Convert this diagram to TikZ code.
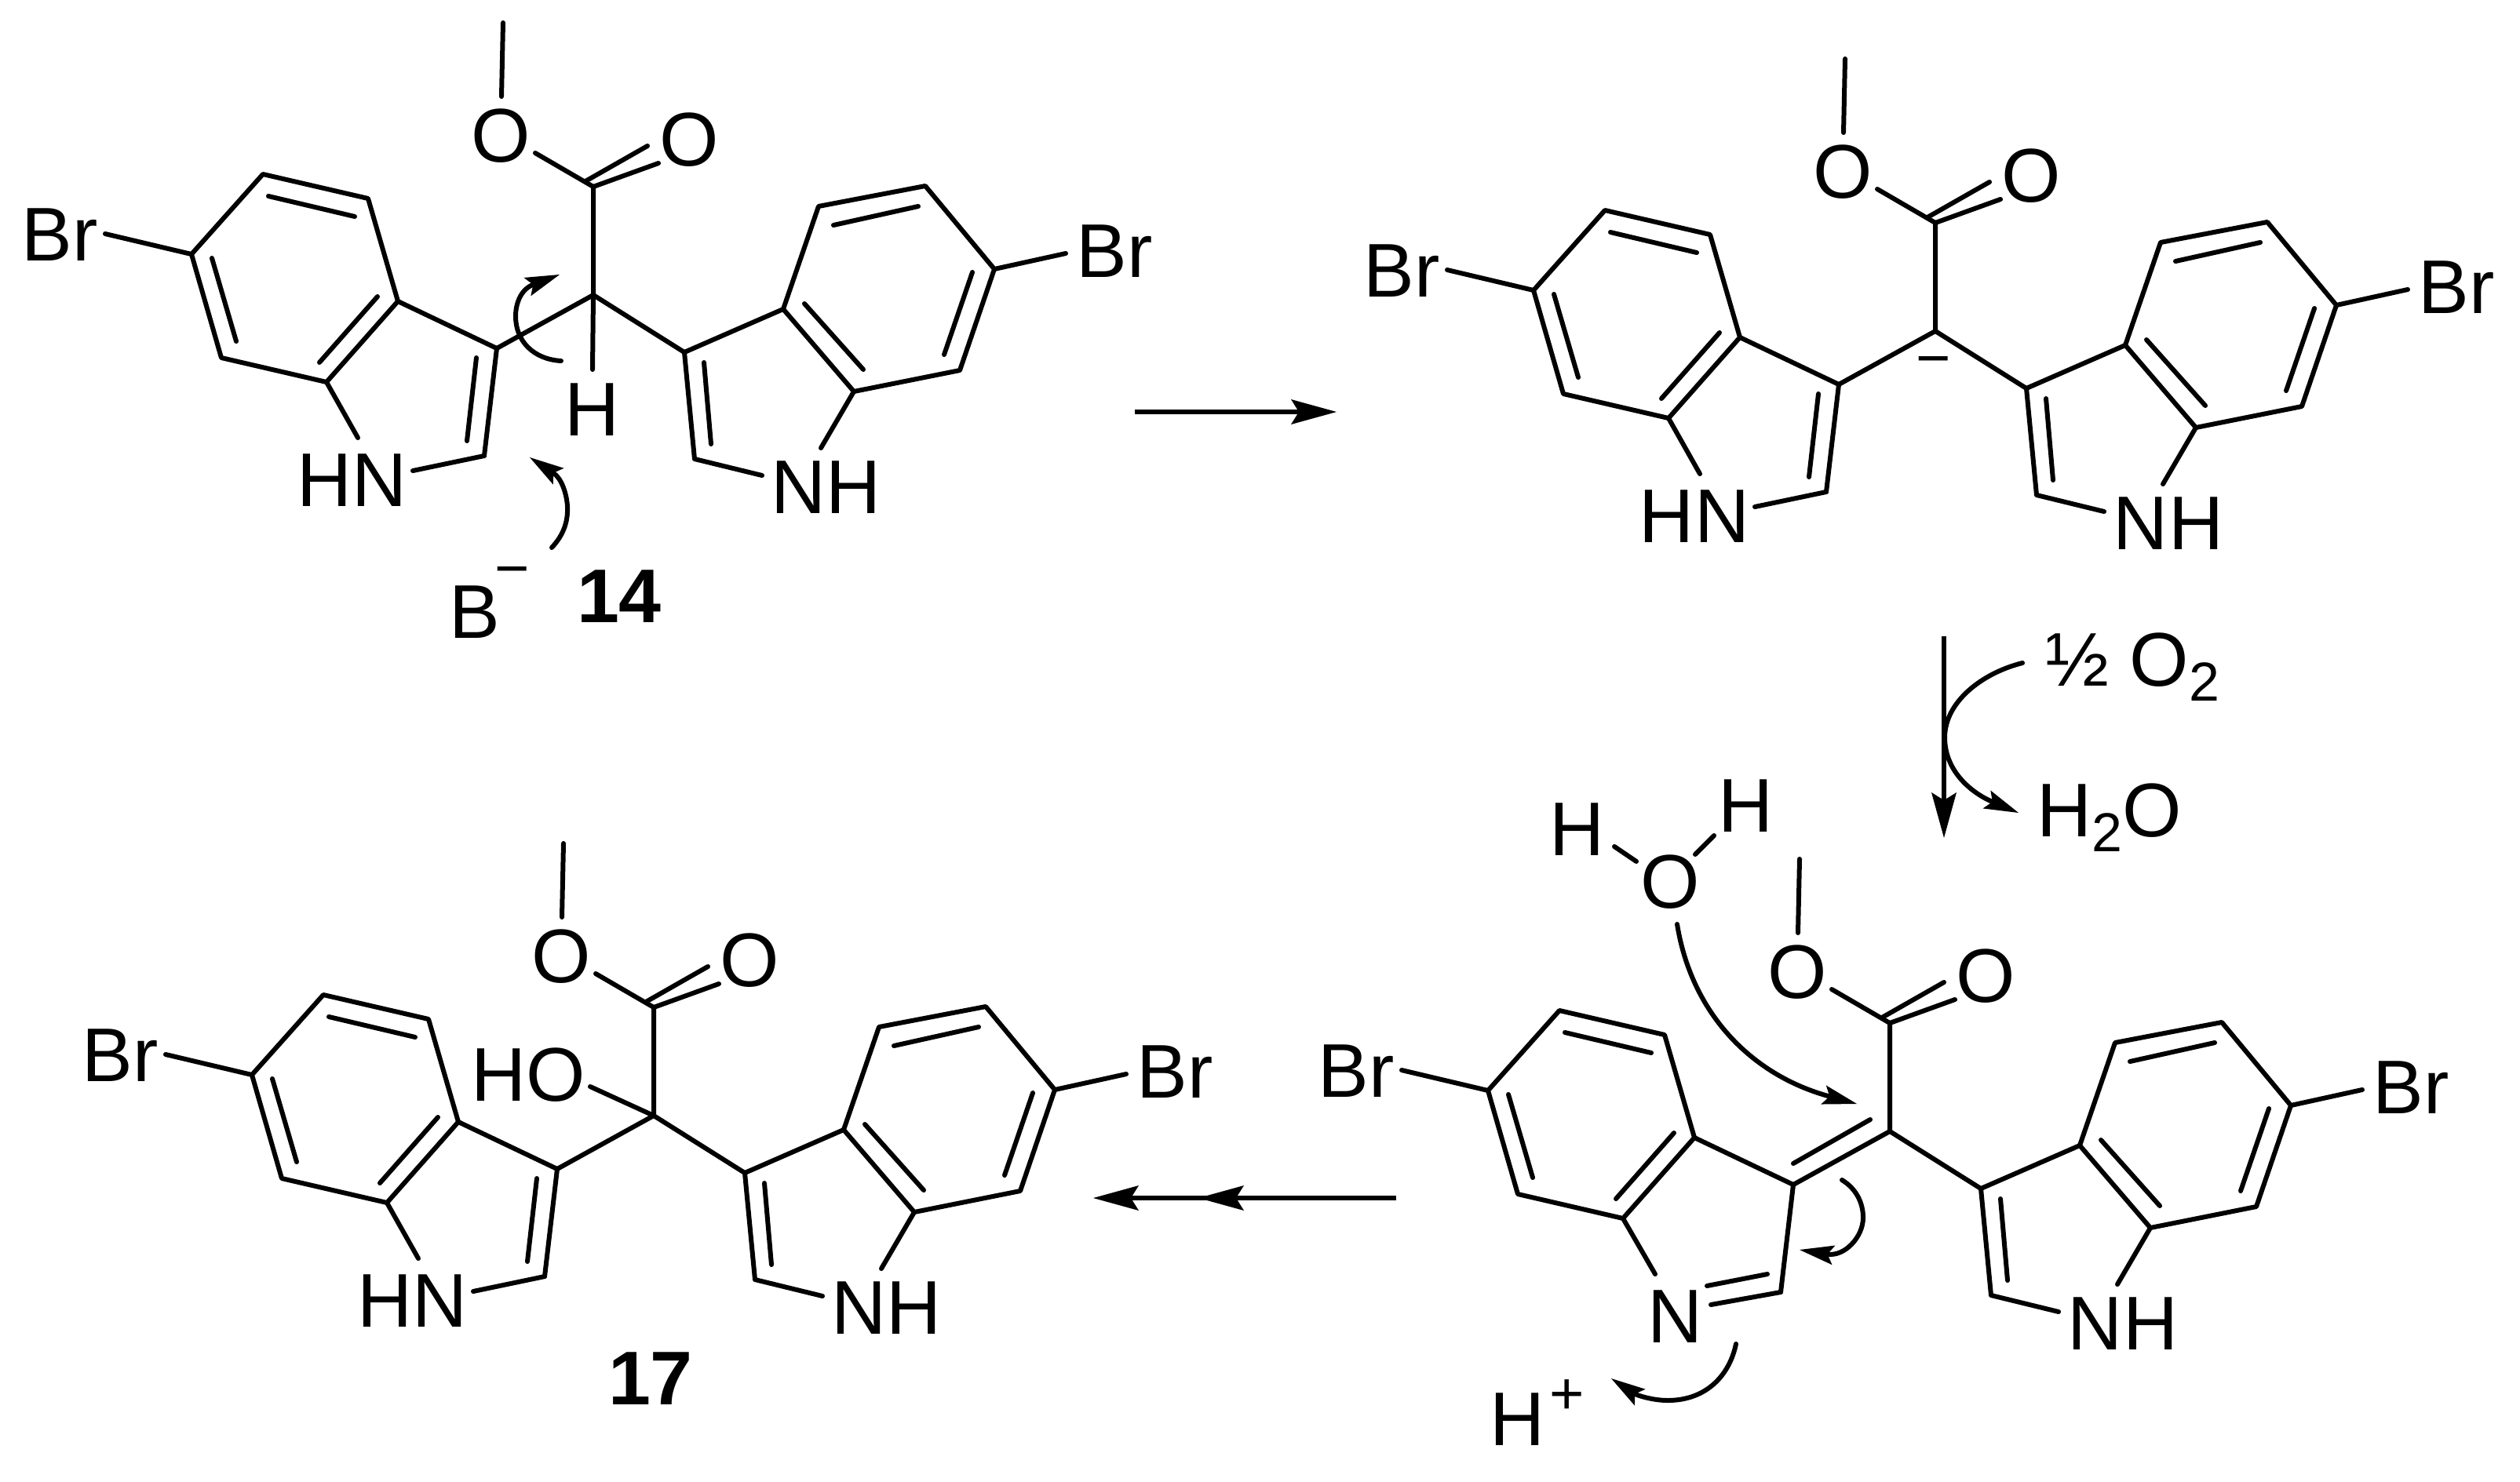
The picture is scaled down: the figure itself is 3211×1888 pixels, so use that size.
\documentclass[tikz,border=0pt]{standalone}
\usepackage{fontspec}
\setmainfont{Liberation Sans}
\usetikzlibrary{arrows.meta}
\tikzset{
  atom/.style={inner sep=0pt,outer sep=0pt,anchor=base,font=\fontsize{97}{97}\selectfont},
  boldlabel/.style={inner sep=0pt,outer sep=0pt,anchor=base,font=\fontsize{97}{97}\selectfont\bfseries},
  charge/.style={inner sep=0pt,outer sep=0pt,anchor=base,font=\fontsize{76}{76}\selectfont},
  bond/.style={line width=6pt,line cap=round,line join=round},
  rxn/.style={line width=6pt,-{Stealth[length=58pt,width=32pt,inset=10pt,line width=0pt]}},
  curly/.style={line width=6pt,line cap=round,-{Stealth[length=44pt,width=25pt,inset=8pt,line width=0pt]}}
}
\newcommand{\subtwo}{\raisebox{-19pt}{\fontsize{70}{70}\selectfont 2}}
% the part that all four structures share; #1 = prefix of the node names
\newcommand{\molcore}[1]{
  \coordinate (#1c6) at (244,324);  \coordinate (#1c5) at (335,222);
  \coordinate (#1c4) at (469,253);  \coordinate (#1c3a) at (507,384);
  \coordinate (#1c7a) at (416,487); \coordinate (#1c7) at (282,456);
  \coordinate (#1c3) at (633,444);  \coordinate (#1c2) at (617,581);
  \coordinate (#1ctr) at (756,376); \coordinate (#1cx) at (756,238);
  \coordinate (#1rc3) at (872,449); \coordinate (#1rc3a) at (998,394);
  \coordinate (#1rc4) at (1043,263);\coordinate (#1rc5) at (1179,237);
  \coordinate (#1rc6) at (1267,343);\coordinate (#1rc7) at (1223,472);
  \coordinate (#1rc7a) at (1088,499);\coordinate (#1rc2) at (885,585);
  \node[atom] (#1brl) at (76,332) {Br};
  \node[atom] (#1brr) at (1420,353) {Br};
  \node[atom] (#1oe) at (638,206) {O};
  \node[atom] (#1oc) at (878,211) {O};
  \node[atom] (#1nr) at (1053,654) {NH};
  % left benzene ring
  \draw[bond] (#1c6) -- (#1c5) -- (#1c4) -- (#1c3a) -- (#1c7a) -- (#1c7) -- cycle;
  \draw[bond] (342,250) -- (452,276);
  \draw[bond] (270,329) -- (301,435);
  \draw[bond] (481,378) -- (407,462);
  \draw[bond] (134,298) -- (#1c6);
  \draw[bond] (#1c3a) -- (#1c3) -- (#1c2);
  % right benzene ring
  \draw[bond] (#1rc6) -- (#1rc5) -- (#1rc4) -- (#1rc3a) -- (#1rc7a) -- (#1rc7) -- cycle;
  \draw[bond] (1062,287) -- (1170,263);
  \draw[bond] (1239,347) -- (1203,452);
  \draw[bond] (1025,387) -- (1100,471);
  \draw[bond] (1358,323) -- (#1rc6);
  \draw[bond] (#1rc3a) -- (#1rc3) -- (#1rc2) -- (971,606);
  \draw[bond] (897,462) -- (906,566);
  \draw[bond] (#1rc7a) -- (1046,571);
  % centre and ester
  \draw[bond] (#1c3) -- (#1ctr) -- (#1rc3);
  \draw[bond] (#1ctr) -- (#1cx) -- (682,195);
  \draw[bond] (#1cx) -- (839,208);
  \draw[bond] (746,231) -- (825,186);
  \draw[bond] (641,29) -- (639,123);
}
% pyrrole ring closed through an NH on the left
\newcommand{\leftnh}[1]{
  \node[atom] (#1nl) at (449,645) {HN};
  \draw[bond] (#1c7a) -- (456,558);
  \draw[bond] (#1c2) -- (526,600);
  \draw[bond] (607,456) -- (595,562);
}
\begin{document}
\begin{tikzpicture}[x=1pt,y=-1pt]
\useasboundingbox (0,0) rectangle (3211,1888);
\fill[white] (0,0) rectangle (3211,1888);

% --- structure 14
\begin{scope}
  \molcore{a}
  \leftnh{a}
  \node[atom] (ah) at (755,555) {H};
  \draw[bond] (actr) -- (755,471);
  \node[atom] (ab) at (605,813) {B};
  \node[charge] (abm) at (653,750) {−};
  \node[boldlabel] (a14) at (789,793) {14};
  \coordinate (as1) at (715,460); \coordinate (at1) at (713,350);
  \draw[curly] (as1) .. controls (680,458) and (657,435) .. (657,403)
     .. controls (657,388) and (663,369) .. (at1);
  \coordinate (as2) at (703,698); \coordinate (at2) at (675,583);
  \draw[curly] (as2) .. controls (718,682) and (724,665) .. (723,645)
     .. controls (722,630) and (716,610) .. (at2);
\end{scope}

% --- first arrow
\coordinate (r1s) at (1446,525); \coordinate (r1e) at (1703,525);
\draw[rxn] (r1s) -- (r1e);

% --- carbanion
\begin{scope}[shift={(1710,46)}]
  \molcore{b}
  \leftnh{b}
  \node[charge] (bm) at (754,436) {−};
\end{scope}

% --- oxidation arrow
\coordinate (r2s) at (2477,811); \coordinate (r2e) at (2477,1068);
\draw[rxn] (r2s) -- (r2e);
\node[atom,anchor=base west] (half) at (2606,874) {½ O\subtwo};
\node[atom,anchor=base west] (water) at (2595,1066) {H\subtwo O};
\coordinate (r3s) at (2577,845); \coordinate (r3t) at (2572,1036);
\draw[curly] (r3s) .. controls (2525,858) and (2478,895) .. (2478,940)
   .. controls (2478,985) and (2515,1012) .. (r3t);

% --- imine intermediate
\begin{scope}[shift={(1652,1066)}]
  \molcore{d}
  \node[atom] (dn) at (482,645) {N};
  \draw[bond] (dc7a) -- (457,558);
  \draw[bond] (dc2) -- (528,597);
  \draw[bond] (523,573) -- (600,558);
  \draw[bond] (633,417) -- (731,361);
\end{scope}
\node[atom] (wh1) at (2009,1090) {H};
\node[atom] (wh2) at (2224,1060) {H};
\node[atom] (wo) at (2128,1157) {O};
\draw[bond] (2057,1079) -- (2085,1098);
\draw[bond] (2184,1065) -- (2160,1089);
\coordinate (w1s) at (2137,1178); \coordinate (w1t) at (2366,1407);
\draw[curly] (w1s) .. controls (2155,1290) and (2230,1370) .. (w1t);
\coordinate (w2s) at (2347,1504); \coordinate (w2t) at (2293,1593);
\draw[curly] (w2s) .. controls (2365,1515) and (2374,1533) .. (2374,1552)
   .. controls (2374,1577) and (2350,1602) .. (w2t);
\coordinate (w3s) at (2212,1713); \coordinate (w3t) at (2053,1757);
\draw[curly] (w3s) .. controls (2204,1752) and (2175,1785) .. (2125,1785)
   .. controls (2105,1785) and (2085,1778) .. (w3t);
\node[atom] (hp) at (1933,1842) {H};
\node[charge] (hpp) at (1997,1802) {+};

% --- last arrow
\coordinate (r4s) at (1779,1527); \coordinate (r4m) at (1527,1527); \coordinate (r4e) at (1393,1527);
\draw[rxn] (r4s) -- (r4m);
\draw[rxn] (r4s) -- (r4e);

% --- structure 17
\begin{scope}[shift={(77,1046)}]
  \molcore{c}
  \leftnh{c}
  \node[atom] (cho) at (596,357) {HO};
  \draw[bond] (cctr) -- (675,339);
  \node[boldlabel] (c17) at (752,744) {17};
\end{scope}
\end{tikzpicture}
\end{document}
